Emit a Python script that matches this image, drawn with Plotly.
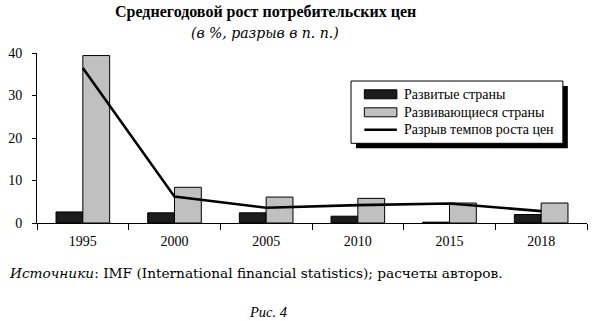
import plotly.graph_objects as go

years = ["1995", "2000", "2005", "2010", "2015", "2018"]
developed = [2.6, 2.4, 2.4, 1.6, 0.2, 2.0]
developing = [39.4, 8.4, 6.1, 5.8, 4.7, 4.7]
gap = [36.5, 6.2, 3.6, 4.2, 4.6, 2.8]
names = ["Развитые страны", "Развивающиеся страны", "Разрыв темпов роста цен"]

W, H = 595, 321
L, R, T, B = 33, 8, 53, 98
PW, PH = W - L - R, H - T - B

def px(x):
    return (x - L) / PW

def py(y):
    return (H - B - y) / PH

SERIF = "Liberation Serif"
WIDE = "DejaVu Serif"
DARK = "#1c1c1c"
GREY = "#c0c0c0"

fig = go.Figure()
fig.add_trace(go.Bar(x=years, y=developed, name=names[0], marker=dict(color=DARK, line=dict(color="black", width=1))))
fig.add_trace(go.Bar(x=years, y=developing, name=names[1], marker=dict(color=GREY, line=dict(color="black", width=1))))
fig.add_trace(go.Scatter(x=years, y=gap, name=names[2], mode="lines", line=dict(color="black", width=2.6)))

shapes = []
bx0, by0, bx1, by1 = 349.3, 81, 562.7, 143.3
shapes.append(dict(type="rect", xref="paper", yref="paper", x0=px(bx0 + 5), x1=px(bx1 + 5), y0=py(by0 + 5), y1=py(by1 + 5), fillcolor="black", line=dict(width=0), layer="above"))
shapes.append(dict(type="rect", xref="paper", yref="paper", x0=px(bx0), x1=px(bx1), y0=py(by0), y1=py(by1), fillcolor="white", line=dict(color="black", width=1), layer="above"))
sx0, sx1 = 362.7, 395.5
rows = [94.3, 112.3, 129.8]
shapes.append(dict(type="rect", xref="paper", yref="paper", x0=px(sx0), x1=px(sx1), y0=py(rows[0] - 4.5), y1=py(rows[0] + 4.5), fillcolor=DARK, line=dict(color="black", width=1), layer="above"))
shapes.append(dict(type="rect", xref="paper", yref="paper", x0=px(sx0), x1=px(sx1), y0=py(rows[1] - 4.5), y1=py(rows[1] + 4.5), fillcolor=GREY, line=dict(color="black", width=1), layer="above"))
shapes.append(dict(type="line", xref="paper", yref="paper", x0=px(sx0), x1=px(sx1), y0=py(rows[2]), y1=py(rows[2]), line=dict(color="black", width=2.6), layer="above"))

annotations = []
for name, r in zip(names, rows):
    annotations.append(dict(text=name, xref="paper", yref="paper", x=px(400.5), y=py(r), xanchor="left", yanchor="middle", showarrow=False, font=dict(family=SERIF, size=14, color="black")))

annotations.append(dict(text="<b>Среднегодовой рост потребительских цен</b>", xref="paper", yref="paper", x=px(263), y=py(12), xanchor="center", yanchor="middle", showarrow=False, font=dict(family=SERIF, size=16, color="black")))
annotations.append(dict(text="<i>(в %, разрыв в п. п.)</i>", xref="paper", yref="paper", x=px(263), y=py(33), xanchor="center", yanchor="middle", showarrow=False, font=dict(family=WIDE, size=14, color="black")))
annotations.append(dict(text="<i>Источники</i>: IMF (International financial statistics); расчеты авторов.", xref="paper", yref="paper", x=px(3), y=py(273), xanchor="left", yanchor="middle", showarrow=False, font=dict(family=WIDE, size=13.7, color="black")))
annotations.append(dict(text="<i>Рис. 4</i>", xref="paper", yref="paper", x=px(266), y=py(312), xanchor="center", yanchor="middle", showarrow=False, font=dict(family=SERIF, size=14.5, color="black")))

fig.update_layout(
    width=W, height=H,
    margin=dict(l=L, r=R, t=T, b=B, pad=0),
    paper_bgcolor="white", plot_bgcolor="white",
    barmode="group", bargap=0.415, bargroupgap=0,
    showlegend=False,
    shapes=shapes, annotations=annotations,
    font=dict(family=SERIF, size=13, color="black"),
    xaxis=dict(type="category", tickson="boundaries", ticks="outside", ticklen=6, tickwidth=1, tickcolor="black",
               showline=True, linecolor="black", linewidth=1, showgrid=False, zeroline=False,
               tickfont=dict(family=SERIF, size=14, color="black"), ticklabelstandoff=5),
    yaxis=dict(range=[0, 40], dtick=10, ticks="outside", ticklen=4, tickwidth=1, tickcolor="black",
               showline=True, linecolor="black", linewidth=1, showgrid=False, zeroline=False,
               tickfont=dict(family=SERIF, size=14, color="black"), ticklabelstandoff=7),
)

fig.write_html("out.html")
